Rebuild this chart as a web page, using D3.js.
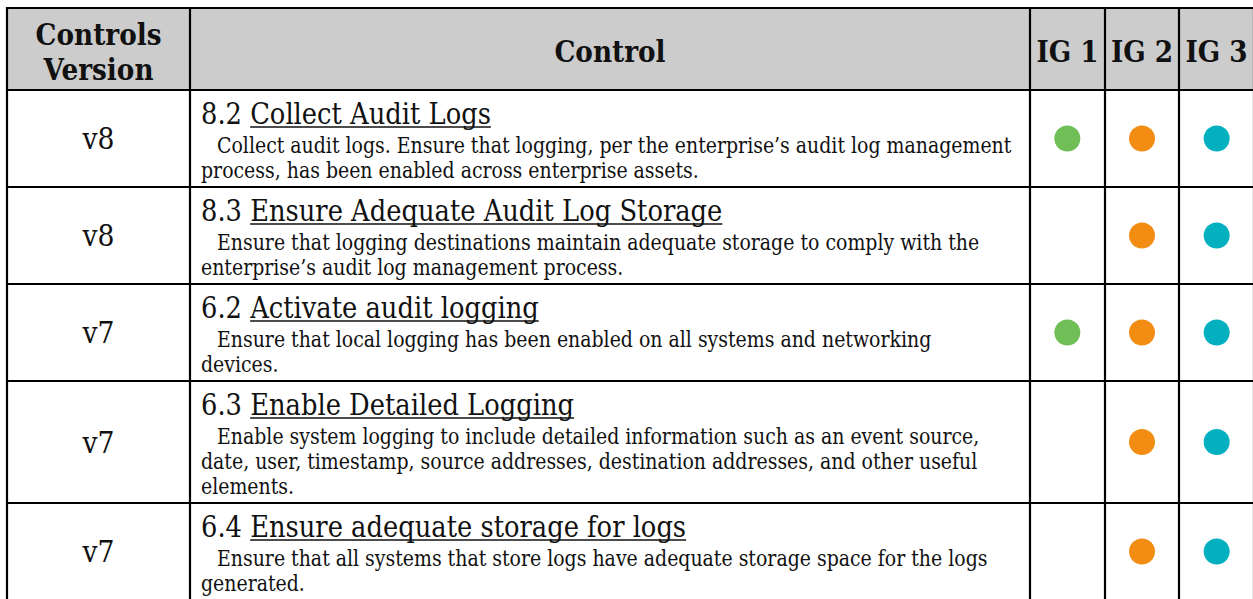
<!DOCTYPE html>
<html><head><meta charset="utf-8">
<script src="https://cdn.jsdelivr.net/npm/d3@7"></script>
<style>html,body{margin:0;padding:0;background:#fff;overflow:hidden}</style>
</head><body>
<svg id="c" width="1253" height="599"></svg>
<script>
// ---- data ----
const headers = [["Controls","Version"],["Control"],["IG 1"],["IG 2"],["IG 3"]];
const versions = ["v8","v8","v7","v7","v7"];
const controlIds = ["8.2","8.3","6.2","6.3","6.4"];
const controlTitles = ["Collect Audit Logs","Ensure Adequate Audit Log Storage","Activate audit logging","Enable Detailed Logging","Ensure adequate storage for logs"];
const descriptionLines = [
  ["Collect audit logs. Ensure that logging, per the enterprise\u2019s audit log management","process, has been enabled across enterprise assets."],
  ["Ensure that logging destinations maintain adequate storage to comply with the","enterprise\u2019s audit log management process."],
  ["Ensure that local logging has been enabled on all systems and networking","devices."],
  ["Enable system logging to include detailed information such as an event source,","date, user, timestamp, source addresses, destination addresses, and other useful","elements."],
  ["Ensure that all systems that store logs have adequate storage space for the logs","generated."]
];
const igGroups = ["IG 1","IG 2","IG 3"];
const ig1 = [true,false,true,false,false];
const ig2 = [true,true,true,true,true];
const ig3 = [true,true,true,true,true];
const igColors = ["#6fbf56","#f28c13","#02b0bf"];

// ---- layout ----
const svg = d3.select("#c");
const FONT = "DejaVu Serif";
const STRETCH = 1.13;   // vertical stretch to approximate the taller reference glyphs
const tLeft = 7, tTop = 8, tRight = 1254;
const colEdges = [tLeft, 190, 1030, 1105, 1179, tRight];
const headerH = 82;
const lineH = 25;
const textX = 201, indent = 16;

const meas = svg.append("text").attr("font-family", FONT).attr("x", -9999).attr("y", -9999);
function textWidth(t, size, weight) {
  meas.attr("font-size", size).attr("font-weight", weight || "normal").text(t);
  return meas.node().getComputedTextLength();
}
function fit(t, target, weight) { return 100 * target / textWidth(t, 100, weight); }

const bodySize = fit(descriptionLines[0][0], 1012 - (textX + indent));
const titleSize = fit("6.2 Activate audit log", 280);
const headSize = fit("Controls", 126, "bold");
const verSize = fit("v8", 32);
meas.remove();

function addText(parent, x, y, str, size, opts) {
  opts = opts || {};
  return parent.append("text")
    .attr("transform", `translate(${x},${y}) scale(1,${STRETCH})`)
    .attr("font-family", FONT).attr("font-size", size)
    .attr("font-weight", opts.bold ? "bold" : "normal")
    .attr("text-anchor", opts.anchor || "start")
    .attr("fill", "#111").text(str);
}

// rows
const rowHeights = descriptionLines.map(d => 22 + lineH * (d.length + 1));
const rowTops = [];
let acc = tTop + headerH;
rowHeights.forEach(h => { rowTops.push(acc); acc += h; });
const tBottom = acc;

const yRow = i => rowTops[i];
const xIG = d3.scaleBand().domain(igGroups).range([colEdges[2], tRight]);

// header background
svg.append("rect").attr("x", tLeft).attr("y", tTop).attr("width", tRight - tLeft).attr("height", headerH).attr("fill", "#cccccc");

// header text
const hCenters = colEdges.slice(0, 5).map((e, i) => (e + colEdges[i + 1]) / 2);
headers.forEach((lines, i) => {
  if (lines.length === 2) {
    addText(svg, hCenters[i], 45, lines[0], headSize, { bold: true, anchor: "middle" });
    addText(svg, hCenters[i], 80, lines[1], headSize, { bold: true, anchor: "middle" });
  } else {
    addText(svg, hCenters[i], 62, lines[0], headSize, { bold: true, anchor: "middle" });
  }
});

// rows
const rows = svg.selectAll("g.row").data(versions.map((v, i) => ({
  i, version: v, id: controlIds[i], title: controlTitles[i], desc: descriptionLines[i],
  ig: [ig1[i], ig2[i], ig3[i]]
}))).join("g").attr("class", "row");

rows.each(function(d) {
  const g = d3.select(this);
  const y0 = yRow(d.i);
  const hh = rowHeights[d.i];
  addText(g, hCenters[0], y0 + hh / 2 + verSize * 0.36 * STRETCH, d.version, verSize, { anchor: "middle" });

  const idText = addText(g, textX, y0 + 34, d.id + "\u00a0", titleSize);
  const idW = idText.node().getComputedTextLength();
  const tt = addText(g, textX + idW, y0 + 34, d.title, titleSize);
  const tw = tt.node().getComputedTextLength();
  g.append("line").attr("x1", textX + idW).attr("x2", textX + idW + tw)
    .attr("y1", y0 + 37).attr("y2", y0 + 37).attr("stroke", "#111").attr("stroke-width", 1.4);
  d.desc.forEach((ln, k) => {
    addText(g, k === 0 ? textX + indent : textX, y0 + 63 + k * lineH, ln, bodySize);
  });
  g.selectAll("circle").data(d.ig.map((on, j) => ({ on, j })).filter(c => c.on)).join("circle")
    .attr("cx", c => xIG(igGroups[c.j]) + xIG.bandwidth() / 2)
    .attr("cy", y0 + hh / 2)
    .attr("r", 13)
    .attr("fill", c => igColors[c.j]);
});

// grid lines
const grid = svg.append("g").attr("stroke", "#000").attr("stroke-width", 2.2);
[tTop, tTop + headerH, ...rowTops.slice(1), tBottom].forEach(y => {
  grid.append("line").attr("x1", tLeft - 1).attr("x2", tRight + 1).attr("y1", y).attr("y2", y);
});
colEdges.forEach(x => {
  grid.append("line").attr("x1", x).attr("x2", x).attr("y1", tTop - 1).attr("y2", tBottom + 1);
});
</script>
</body></html>
